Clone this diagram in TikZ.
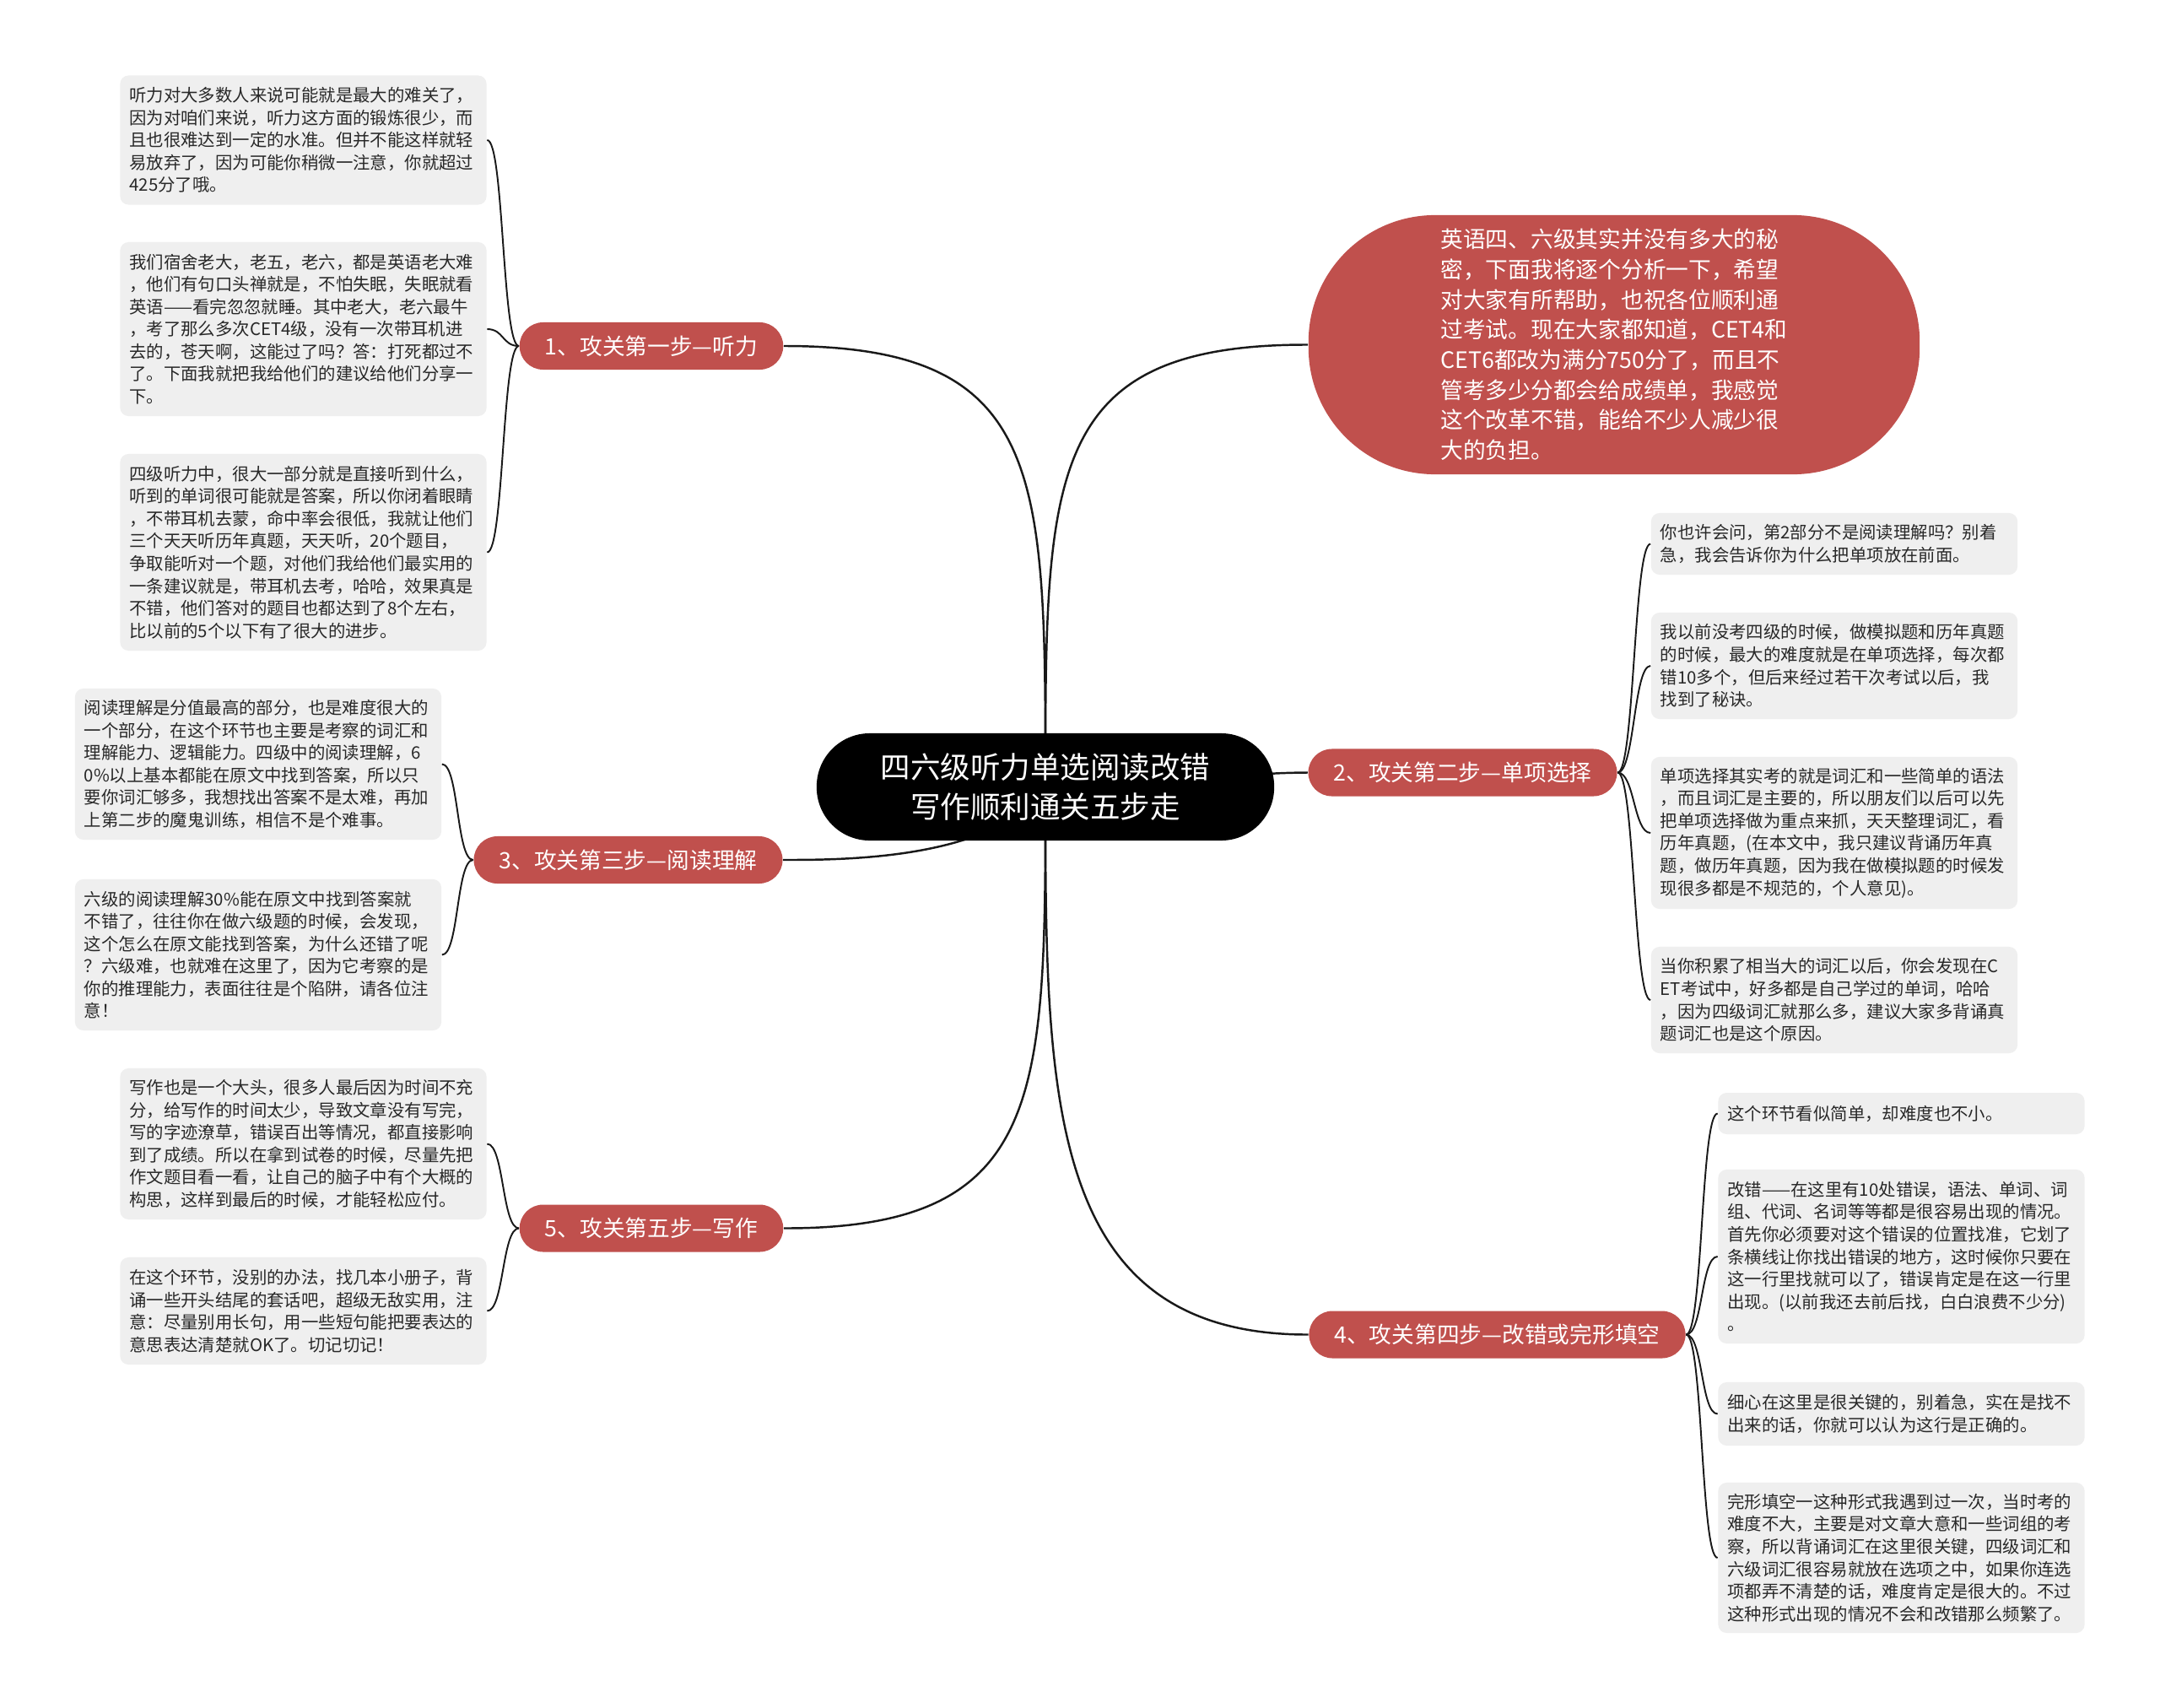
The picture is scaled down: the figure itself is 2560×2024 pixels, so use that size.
\documentclass[tikz,border=0pt]{standalone}
\usepackage{fontspec}
\setmainfont{Noto Sans CJK SC}
\usetikzlibrary{calc,backgrounds}
\definecolor{brred}{RGB}{192,80,77}
\definecolor{leafgray}{RGB}{239,239,239}
\definecolor{linec}{RGB}{25,25,25}
\definecolor{leaftext}{RGB}{40,40,40}
\begin{document}
\begin{tikzpicture}[x=0.01cm,y=-0.01cm,
  leaf/.style={fill=leafgray, rounded corners=0.1cm, text width=4.12cm, inner xsep=0.11cm, inner ysep=0pt, align=left, text=leaftext, font=\fontsize{5.8pt}{7.55pt}\selectfont},
  branch/.style={fill=brred, text=white, rounded corners=0.28cm, minimum height=0.56cm, inner xsep=0.3cm, inner ysep=0pt, font=\fontsize{7.6pt}{9pt}\selectfont},
  rootnode/.style={fill=black, text=white, rounded corners=0.63cm, minimum width=5.42cm, minimum height=1.27cm, align=center, font=\fontsize{10.1pt}{13.4pt}\selectfont},
  topnote/.style={fill=brred, text=white, rounded corners=1.5cm, minimum width=7.24cm, minimum height=3.07cm, align=left, font=\fontsize{7.6pt}{10.15pt}\selectfont},
  link/.style={draw=linec, line width=0.7pt},
  leaflink/.style={draw=linec, line width=0.55pt}]
\useasboundingbox (0,0) rectangle (2560,2024);

% central
\node[rootnode] (c) at (1239,932.5) {四六级听力单选阅读改错\\写作顺利通关五步走};

% top note
\node[topnote] (top) at (1913,408.5) {英语四、六级其实并没有多大的秘\\密，下面我将逐个分析一下，希望\\对大家有所帮助，也祝各位顺利通\\过考试。现在大家都知道，CET4和\\CET6都改为满分750分了，而且不\\管考多少分都会给成绩单，我感觉\\这个改革不错，能给不少人减少很\\大的负担。};

% branches
\node[branch] (b1) at (772,410) {1、攻关第一步—听力};
\node[branch] (b2) at (1733.5,915.5) {2、攻关第二步—单项选择};
\node[branch] (b3) at (744.5,1019) {3、攻关第三步—阅读理解};
\node[branch] (b4) at (1774.5,1581.5) {4、攻关第四步—改错或完形填空};
\node[branch] (b5) at (772,1455.5) {5、攻关第五步—写作};

% leaves of 1
\node[leaf, minimum height=1.53cm] (l1) at (359.5,166) {听力对大多数人来说可能就是最大的难关了，\\因为对咱们来说，听力这方面的锻炼很少，而\\且也很难达到一定的水准。但并不能这样就轻\\易放弃了，因为可能你稍微一注意，你就超过\\425分了哦。};
\node[leaf, minimum height=2.06cm] (l2) at (359.5,390) {我们宿舍老大，老五，老六，都是英语老大难\\，他们有句口头禅就是，不怕失眠，失眠就看\\英语——看完忽忽就睡。其中老大，老六最牛\\，考了那么多次CET4级，没有一次带耳机进\\去的，苍天啊，这能过了吗？答：打死都过不\\了。下面我就把我给他们的建议给他们分享一\\下。};
\node[leaf, minimum height=2.33cm] (l3) at (359.5,654.5) {四级听力中，很大一部分就是直接听到什么，\\听到的单词很可能就是答案，所以你闭着眼睛\\，不带耳机去蒙，命中率会很低，我就让他们\\三个天天听历年真题，天天听，20个题目，\\争取能听对一个题，对他们我给他们最实用的\\一条建议就是，带耳机去考，哈哈，效果真是\\不错，他们答对的题目也都达到了8个左右，\\比以前的5个以下有了很大的进步。};

% leaves of 3
\node[leaf, minimum height=1.79cm] (l4) at (306,905.5) {阅读理解是分值最高的部分，也是难度很大的\\一个部分，在这个环节也主要是考察的词汇和\\理解能力、逻辑能力。四级中的阅读理解，6\\0\%以上基本都能在原文中找到答案，所以只\\要你词汇够多，我想找出答案不是太难，再加\\上第二步的魔鬼训练，相信不是个难事。};
\node[leaf, minimum height=1.79cm] (l5) at (306,1131.5) {六级的阅读理解30\%能在原文中找到答案就\\不错了，往往你在做六级题的时候，会发现，\\这个怎么在原文能找到答案，为什么还错了呢\\？六级难，也就难在这里了，因为它考察的是\\你的推理能力，表面往往是个陷阱，请各位注\\意！};

% leaves of 5
\node[leaf, minimum height=1.79cm] (l6) at (359.5,1355.5) {写作也是一个大头，很多人最后因为时间不充\\分，给写作的时间太少，导致文章没有写完，\\写的字迹潦草，错误百出等情况，都直接影响\\到了成绩。所以在拿到试卷的时候，尽量先把\\作文题目看一看，让自己的脑子中有个大概的\\构思，这样到最后的时候，才能轻松应付。};
\node[leaf, minimum height=1.27cm] (l7) at (359.5,1553.5) {在这个环节，没别的办法，找几本小册子，背\\诵一些开头结尾的套话吧，超级无敌实用，注\\意：尽量别用长句，用一些短句能把要表达的\\意思表达清楚就OK了。切记切记！};

% leaves of 2
\node[leaf, minimum height=0.73cm] (r1) at (2174,644.5) {你也许会问，第2部分不是阅读理解吗？别着\\急，我会告诉你为什么把单项放在前面。};
\node[leaf, minimum height=1.26cm] (r2) at (2174,789) {我以前没考四级的时候，做模拟题和历年真题\\的时候，最大的难度就是在单项选择，每次都\\错10多个，但后来经过若干次考试以后，我\\找到了秘诀。};
\node[leaf, minimum height=1.80cm] (r3) at (2174,987) {单项选择其实考的就是词汇和一些简单的语法\\，而且词汇是主要的，所以朋友们以后可以先\\把单项选择做为重点来抓，天天整理词汇，看\\历年真题，(在本文中，我只建议背诵历年真\\题，做历年真题，因为我在做模拟题的时候发\\现很多都是不规范的，个人意见)。};
\node[leaf, minimum height=1.26cm] (r4) at (2174,1185) {当你积累了相当大的词汇以后，你会发现在C\\ET考试中，好多都是自己学过的单词，哈哈\\，因为四级词汇就那么多，建议大家多背诵真\\题词汇也是这个原因。};

% leaves of 4
\node[leaf, minimum height=0.49cm] (r5) at (2253.5,1319.5) {这个环节看似简单，却难度也不小。};
\node[leaf, minimum height=2.06cm] (r6) at (2253.5,1489) {改错——在这里有10处错误，语法、单词、词\\组、代词、名词等等都是很容易出现的情况。\\首先你必须要对这个错误的位置找准，它划了\\条横线让你找出错误的地方，这时候你只要在\\这一行里找就可以了，错误肯定是在这一行里\\出现。(以前我还去前后找，白白浪费不少分)\\。};
\node[leaf, minimum height=0.75cm] (r7) at (2253.5,1675.5) {细心在这里是很关键的，别着急，实在是找不\\出来的话，你就可以认为这行是正确的。};
\node[leaf, minimum height=1.78cm] (r8) at (2253.5,1846) {完形填空一这种形式我遇到过一次，当时考的\\难度不大，主要是对文章大意和一些词组的考\\察，所以背诵词汇在这里很关键，四级词汇和\\六级词汇很容易就放在选项之中，如果你连选\\项都弄不清楚的话，难度肯定是很大的。不过\\这种形式出现的情况不会和改错那么频繁了。};

\begin{scope}[on background layer]
\fill[white] (0,0) rectangle (2560,2024);
% main connectors
\draw[link] (c.center) .. controls (1239,560) and (1239,410) .. (b1.east);
\draw[link] (c.center) .. controls (1239,560) and (1239,408) .. (top.west);
\draw[link] (c.center) .. controls (1400,932) and (1450,916) .. (b2.west);
\draw[link] (c.center) .. controls (1180,1019) and (1000,1019) .. (b3.east);
\draw[link] (c.center) .. controls (1239,1300) and (1239,1582) .. (b4.west);
\draw[link] (c.center) .. controls (1239,1300) and (1239,1456) .. (b5.east);
% leaf connectors
\foreach \l in {l1,l2,l3} \draw[leaflink] (b1.west) .. controls +(-20,0) and +(20,0) .. (\l.east);
\foreach \l in {l4,l5} \draw[leaflink] (b3.west) .. controls +(-20,0) and +(20,0) .. (\l.east);
\foreach \l in {l6,l7} \draw[leaflink] (b5.west) .. controls +(-20,0) and +(20,0) .. (\l.east);
\foreach \r in {r1,r2,r3,r4} \draw[leaflink] (b2.east) .. controls +(20,0) and +(-20,0) .. (\r.west);
\foreach \r in {r5,r6,r7,r8} \draw[leaflink] (b4.east) .. controls +(20,0) and +(-20,0) .. (\r.west);
\end{scope}
\end{tikzpicture}
\end{document}
